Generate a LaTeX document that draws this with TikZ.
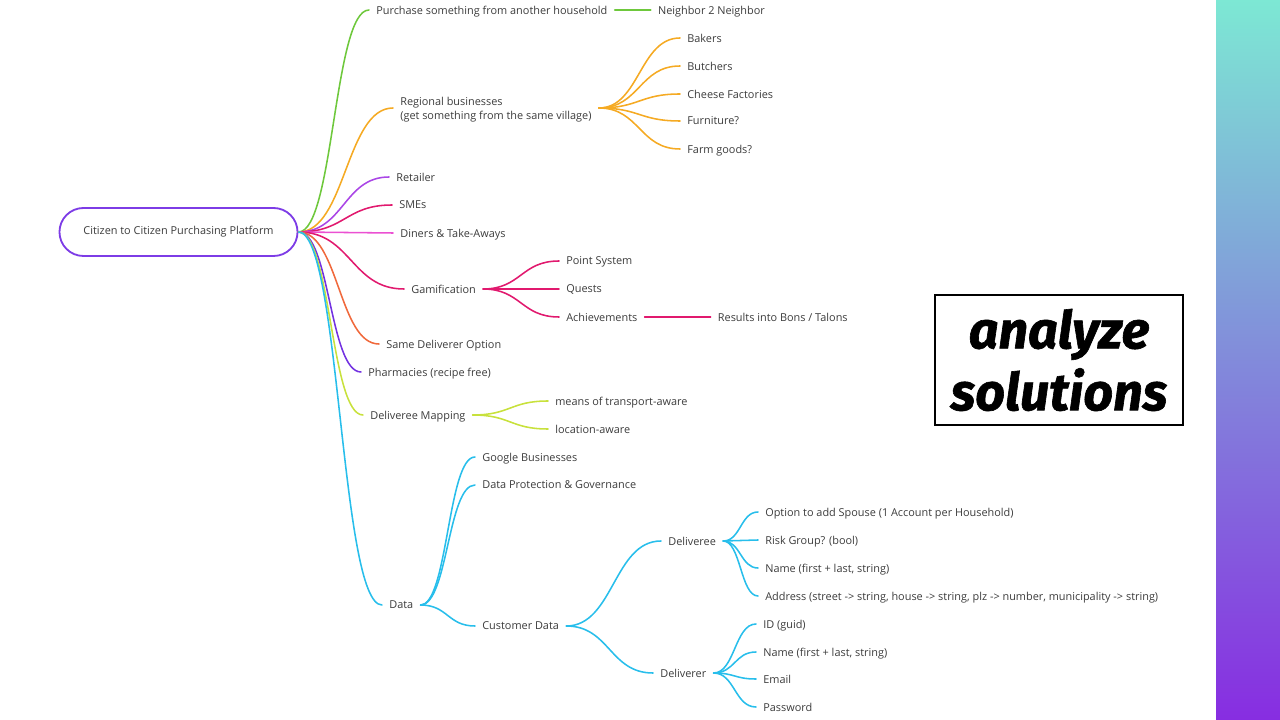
\documentclass[tikz,border=0pt]{standalone}
\usepackage{fontspec}
\setmainfont{Open Sans}
\newfontfamily\stampfont{Fira Sans}[BoldItalicFeatures={FakeBold=1.2}]
\usepackage{tikz}
\usetikzlibrary{positioning, calc}
\usepackage{xcolor}
\definecolor{RootPurple}{RGB}{125,60,230}
\definecolor{TextGray}{RGB}{60,60,60}
\definecolor{LeafGreen}{RGB}{110,200,60}
\definecolor{Amber}{RGB}{245,170,35}
\definecolor{Violet}{RGB}{170,70,230}
\definecolor{Crimson}{RGB}{225,25,110}
\definecolor{Orchid}{RGB}{235,80,210}
\definecolor{Coral}{RGB}{240,105,60}
\definecolor{Indigo}{RGB}{115,50,225}
\definecolor{Lime}{RGB}{200,225,60}
\definecolor{Sky}{RGB}{40,190,235}
\definecolor{BarTop}{RGB}{125,232,212}
\definecolor{BarMid}{RGB}{108,150,222}
\definecolor{BarBottom}{RGB}{135,45,225}

\begin{document}
\begin{tikzpicture}[
  x=0.025cm, y=-0.025cm,
  font=\fontsize{7.75}{10}\selectfont,
  node distance=0.9cm,
  root/.style={draw=RootPurple, line width=1.3pt, rounded corners=0.6cm, minimum width=5.95cm, minimum height=1.2cm, text=TextGray},
  item/.style={anchor=west, inner xsep=5pt, inner ysep=1pt, text depth=0pt, text=TextGray, align=left},
  branch/.style={line width=1.1pt, line cap=round,
    to path={.. controls ($(\tikztostart)!0.5!(\tikztotarget |- \tikztostart)$) and ($(\tikztotarget)!0.5!(\tikztostart |- \tikztotarget)$) .. (\tikztotarget)}},
  link/.style={line width=1.1pt, line cap=round},
  stamp/.style={draw, line width=0.8pt, minimum width=6.2cm, minimum height=3.25cm, align=center, font=\stampfont\bfseries\itshape\fontsize{37}{44}\selectfont}
]
  \useasboundingbox (0,0) rectangle (1280,720);
  \shade[top color=BarTop, middle color=BarMid, bottom color=BarBottom] (1216,0) rectangle (1280,720);

  \node[root] (core) at (178.5,232) {Citizen to Citizen Purchasing Platform};

  % first level
  \node[item] (purch) at (369,10) {Purchase something from another household};
  \node[item, right=of purch] (nbr) {Neighbor 2 Neighbor};
  \node[item] (region) at (393,108) {Regional businesses\\(get something from the same village)};
  \node[item] (retail) at (389,177) {Retailer};
  \node[item] (smes) at (392,205) {SMEs};
  \node[item] (diners) at (393,233) {Diners \& Take-Aways};
  \node[item] (gamif) at (404,289) {Gamification};
  \node[item] (same) at (379,344) {Same Deliverer Option};
  \node[item] (pharma) at (361,372) {Pharmacies (recipe free)};
  \node[item] (mapping) at (363,415) {Deliveree Mapping};
  \node[item] (data) at (382,605) {Data};

  % regional businesses
  \node[item] (bakers) at (680,38) {Bakers};
  \node[item] (butch) at (680,66) {Butchers};
  \node[item] (cheese) at (680,94) {Cheese Factories};
  \node[item] (furn) at (680,121) {Furniture?};
  \node[item] (farm) at (680,149) {Farm goods?};

  % gamification
  \node[item] (points) at (559,261) {Point System};
  \node[item] (quests) at (559,289) {Quests};
  \node[item] (achieve) at (559,317) {Achievements};
  \node[item, right=1.65cm of achieve] (bons) {Results into Bons / Talons};

  % mapping
  \node[item] (transp) at (548,401) {means of transport-aware};
  \node[item] (locat) at (548,429) {location-aware};

  % data
  \node[item] (google) at (475,457) {Google Businesses};
  \node[item] (protect) at (475,485) {Data Protection \& Governance};
  \node[item] (cust) at (475,626) {Customer Data};
  \node[item] (dee) at (661,541) {Deliveree};
  \node[item] (der) at (653,673) {Deliverer};
  \node[item] (spouse) at (758,512) {Option to add Spouse (1 Account per Household)};
  \node[item] (risk) at (758,540) {Risk Group? (bool)};
  \node[item] (deename) at (758,568) {Name (first + last, string)};
  \node[item] (addr) at (758,596) {Address (street -> string, house -> string, plz -> number, municipality -> string)};
  \node[item] (guid) at (756,624) {ID (guid)};
  \node[item] (dername) at (756,652) {Name (first + last, string)};
  \node[item] (email) at (756,679) {Email};
  \node[item] (passw) at (756,707) {Password};

  \node[stamp] (label) at (1059,360) {analyze\\solutions};

  \draw[branch, LeafGreen] (core.east) to (purch.west);
  \draw[link, LeafGreen] (purch.east) -- (nbr.west);
  \draw[branch, Amber] (core.east) to (region.west);
  \draw[branch, Amber] (region.east) to (bakers.west);
  \draw[branch, Amber] (region.east) to (butch.west);
  \draw[branch, Amber] (region.east) to (cheese.west);
  \draw[branch, Amber] (region.east) to (furn.west);
  \draw[branch, Amber] (region.east) to (farm.west);
  \draw[branch, Violet] (core.east) to (retail.west);
  \draw[branch, Crimson] (core.east) to (smes.west);
  \draw[branch, Orchid] (core.east) to (diners.west);
  \draw[branch, Crimson] (core.east) to (gamif.west);
  \draw[branch, Crimson] (gamif.east) to (points.west);
  \draw[branch, Crimson] (gamif.east) to (quests.west);
  \draw[branch, Crimson] (gamif.east) to (achieve.west);
  \draw[link, Crimson] (achieve.east) -- (bons.west);
  \draw[branch, Coral] (core.east) to (same.west);
  \draw[branch, Indigo] (core.east) to (pharma.west);
  \draw[branch, Lime] (core.east) to (mapping.west);
  \draw[branch, Lime] (mapping.east) to (transp.west);
  \draw[branch, Lime] (mapping.east) to (locat.west);
  \draw[branch, Sky] (core.east) to (data.west);
  \draw[branch, Sky] (data.east) to (google.west);
  \draw[branch, Sky] (data.east) to (protect.west);
  \draw[branch, Sky] (data.east) to (cust.west);
  \draw[branch, Sky] (cust.east) to (dee.west);
  \draw[branch, Sky] (cust.east) to (der.west);
  \draw[branch, Sky] (dee.east) to (spouse.west);
  \draw[branch, Sky] (dee.east) to (risk.west);
  \draw[branch, Sky] (dee.east) to (deename.west);
  \draw[branch, Sky] (dee.east) to (addr.west);
  \draw[branch, Sky] (der.east) to (guid.west);
  \draw[branch, Sky] (der.east) to (dername.west);
  \draw[branch, Sky] (der.east) to (email.west);
  \draw[branch, Sky] (der.east) to (passw.west);
\end{tikzpicture}
\end{document}
